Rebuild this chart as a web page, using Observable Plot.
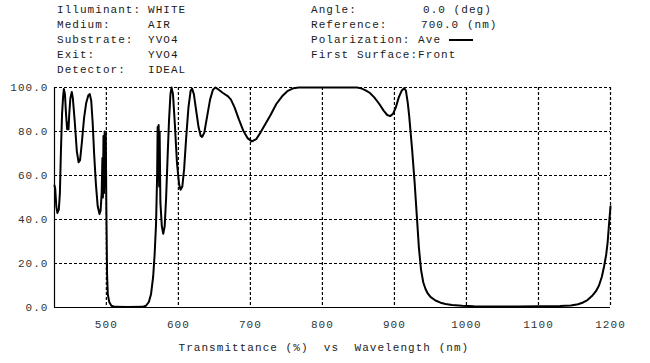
<!DOCTYPE html>
<html>
<head>
<meta charset="utf-8">
<script src="https://cdn.jsdelivr.net/npm/d3@7"></script>
<script src="https://cdn.jsdelivr.net/npm/@observablehq/plot@0.6"></script>
<style>
  html, body { margin: 0; padding: 0; background: #fff; }
  #wrap { position: relative; width: 650px; height: 363px; overflow: hidden; background: #fff; }
  #header { position: relative; width: 650px; height: 86px; font-family: "Liberation Mono", "DejaVu Sans Mono", monospace; font-size: 11px; letter-spacing: 1.05px; color: #1a1a1a; }
  #header span { position: absolute; white-space: pre; line-height: 11px; }
  #header .seg { position: absolute; height: 2px; background: #000; }
  svg text { letter-spacing: 1.05px; white-space: pre; }
</style>
</head>
<body>
<div id="wrap">
  <div id="header"></div>
  <div id="chart"></div>
</div>
<script>
// ---- data ----
const wavelength = [
  428, 429, 430.5, 432, 434, 435.5, 437, 438.5, 440, 441, 442.5, 444, 445.5, 446.5, 447.5, 448.5, 450, 452, 453.5, 456,
  459, 461.5, 463.5, 466, 469, 472, 475, 477, 479, 481, 483, 485.5, 488, 490.5, 492, 493.5, 494.5, 495.2, 496, 496.8,
  497.6, 498.4, 499.2, 500, 501, 502, 504, 507, 512, 530, 550, 555, 559, 562, 565, 567, 569, 570.5, 571.2, 571.9,
  572.6, 573.3, 574, 575, 577, 579, 581, 583, 585, 587, 589, 590.5, 592.5, 595, 598, 601, 603, 605.5, 608, 611,
  614, 617, 619, 621.5, 624.5, 628, 631, 633, 636, 640, 644, 648, 651.5, 656, 662, 669, 673, 678, 684, 690,
  696, 702, 708, 714, 721, 728, 736, 744, 752, 760, 767, 848, 854, 860, 866, 872, 879, 885, 890, 894,
  898, 902, 906, 910, 913.5, 916, 918.5, 920.5, 924.5, 928, 931, 934, 937, 940, 943, 946, 950, 957, 964, 971,
  980, 994, 1010, 1040, 1070, 1100, 1130, 1145, 1155, 1162, 1168, 1175, 1180, 1184, 1188, 1191, 1194, 1196, 1198, 1199,
  1200
];
const transmittance = [
  55.5, 54, 46, 43, 44.5, 52, 72, 88, 96, 99.3, 97, 88, 81, 84, 81, 88, 95, 98, 95, 85,
  71, 66, 67, 75, 86, 93, 96.5, 97, 94, 84, 70, 56, 46, 42.5, 44, 52, 68, 50, 78, 52,
  80, 55, 79, 45, 15, 6, 2.5, 0.8, 0.3, 0.2, 0.3, 0.8, 2.5, 6, 14, 24, 38, 60, 82, 58,
  83, 55, 80, 48, 37, 33.5, 37, 50, 68, 85, 97, 100, 97, 84, 66, 56, 53.5, 55, 63, 78,
  91, 98.5, 99.5, 97, 90, 82, 78, 77.5, 79.5, 87, 94.5, 99, 100, 99, 97.5, 96, 94.5, 91, 85.5, 80.5,
  77, 75.5, 76.5, 79.5, 83.5, 87.5, 92.5, 96, 98.5, 99.7, 100, 100, 99.6, 98.7, 97.5, 95.5, 92.5, 89.5, 87.5, 87,
  88, 91, 95.5, 98.5, 99.7, 98.5, 93, 87, 72, 57, 42, 27, 17, 11.5, 8.5, 6.5, 4.8, 3.2, 2.2, 1.6,
  1.1, 0.8, 0.6, 0.5, 0.5, 0.6, 0.7, 0.9, 1.5, 2.3, 3.4, 5.5, 7.5, 10, 14, 18.5, 24, 29.5, 38, 42,
  46
];
const xTicks = [500, 600, 700, 800, 900, 1000, 1100, 1200];
const yTicks = [0, 20, 40, 60, 80, 100];
const xDomain = [428, 1200];
const xTitle = "Transmittance (%)  vs  Wavelength (nm)";
const headerLeftLabels = ["Illuminant:", "Medium:", "Substrate:", "Exit:", "Detector:"];
const headerLeftValues = ["WHITE", "AIR", "YVO4", "YVO4", "IDEAL"];
const headerRightLabels = ["Angle:", "Reference:", "Polarization: Ave", "First Surface:Front"];
const headerRightValues = ["0.0 (deg)", "700.0 (nm)", "", ""];

// ---- header (HTML above the SVG) ----
const header = document.getElementById("header");
function addSpan(text, left, top) {
  const s = document.createElement("span");
  s.textContent = text;
  s.style.left = left + "px";
  s.style.top = top + "px";
  header.appendChild(s);
}
headerLeftLabels.forEach((t, i) => addSpan(t, 57, 5 + i * 15));
headerLeftValues.forEach((t, i) => addSpan(t, 148, 5 + i * 15));
headerRightLabels.forEach((t, i) => addSpan(t, 311, 5 + i * 15));
addSpan(headerRightValues[0], 423, 5);
addSpan(headerRightValues[1], 421, 20);
const seg = document.createElement("div");
seg.className = "seg";
seg.style.left = "449px"; seg.style.top = "39px"; seg.style.width = "24px";
header.appendChild(seg);

// ---- chart ----
const data = wavelength.map((w, i) => ({w, t: transmittance[i]}));
const chart = Plot.plot({
  width: 650,
  height: 277,
  marginTop: 1,
  marginBottom: 56,
  marginLeft: 54,
  marginRight: 40,
  style: {fontFamily: "Liberation Mono, DejaVu Sans Mono, monospace", fontSize: "11px", background: "#fff", color: "#333", overflow: "visible"},
  x: {domain: xDomain, label: null},
  y: {domain: [0, 100], label: null},
  marks: [
    Plot.gridX(xTicks, {stroke: "#000", strokeOpacity: 1, strokeDasharray: "3,2", strokeWidth: 1.2}),
    Plot.gridY(yTicks, {stroke: "#000", strokeOpacity: 1, strokeDasharray: "3,2", strokeWidth: 1.2}),
    Plot.ruleX([xDomain[0]], {stroke: "#000", strokeWidth: 1.2}),
    Plot.ruleY([0], {stroke: "#000", strokeWidth: 1.2}),
    Plot.line(data, {x: "w", y: "t", stroke: "#000", strokeWidth: 2, strokeLinejoin: "round"}),
    Plot.axisX(xTicks, {tickSize: 0, tickPadding: 13, tickFormat: d => String(d), label: null, fill: "#333"}),
    Plot.axisY(yTicks, {tickSize: 0, tickPadding: 6, tickFormat: d3.format(".1f"), label: null, fill: "#333"}),
    Plot.text([xTitle], {frameAnchor: "bottom-left", text: d => d, textAnchor: "start", fill: "#222", dx: 124, dy: 43})
  ]
});
document.getElementById("chart").appendChild(chart);
</script>
</body>
</html>
